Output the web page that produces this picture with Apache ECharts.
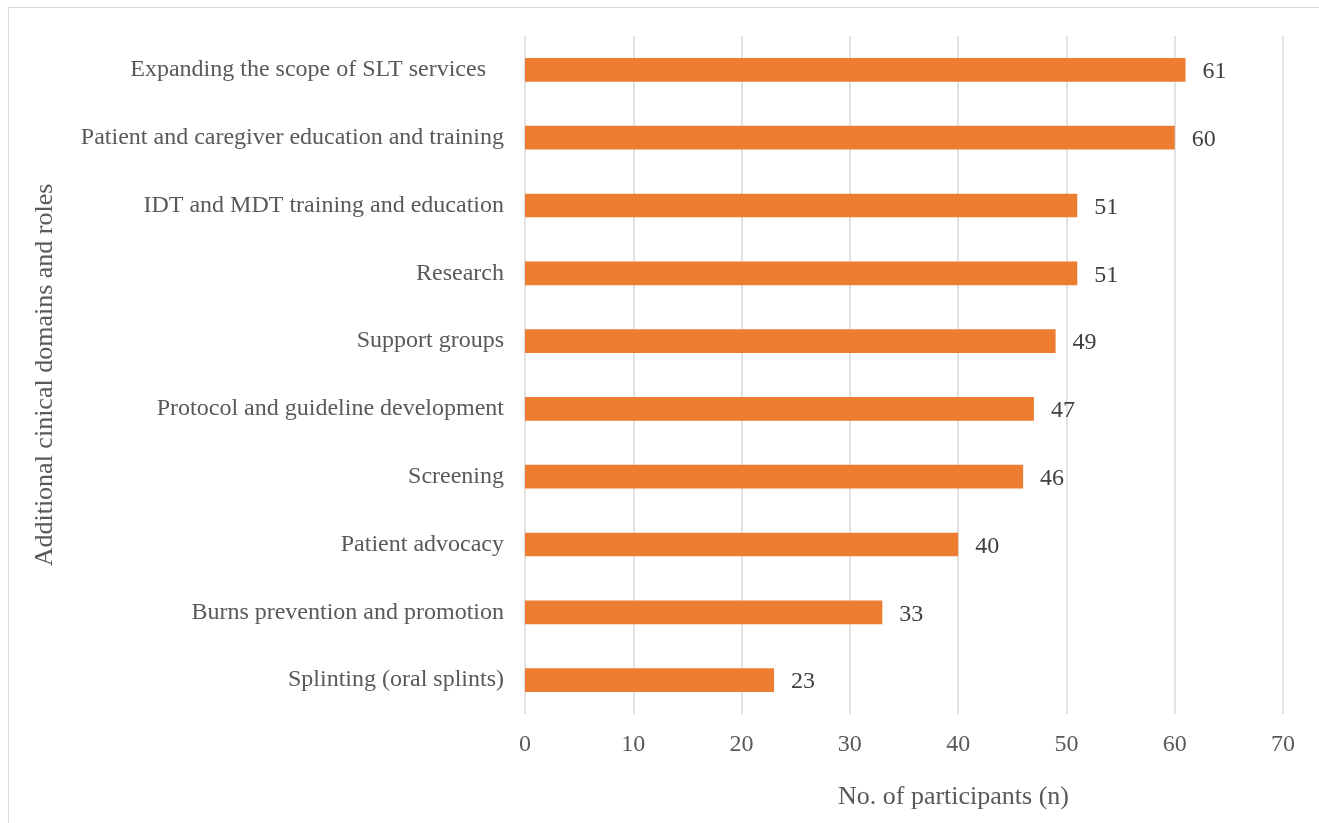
<!DOCTYPE html>
<html>
<head>
<meta charset="utf-8">
<style>
  html, body { margin: 0; padding: 0; background: #fff; }
  #chart { width: 1319px; height: 823px; }
</style>
<script src="https://cdn.jsdelivr.net/npm/echarts@6/dist/echarts.min.js"></script>
</head>
<body>
<div id="chart"></div>
<script>
// Roles, listed bottom to top as drawn on the category axis
const categories = [
  'Splinting (oral splints)',
  'Burns prevention and promotion',
  'Patient advocacy',
  'Screening',
  'Protocol and guideline development',
  'Support groups',
  'Research',
  'IDT and MDT training and education',
  'Patient and caregiver education and training',
  'Expanding the scope of SLT services   '
];
const participants = [23, 33, 40, 46, 47, 49, 51, 51, 60, 61];
const xTicks = [0, 10, 20, 30, 40, 50, 60, 70];

const FONT = '"Liberation Serif", "Times New Roman", serif';
const chart = echarts.init(document.getElementById('chart'));

chart.setOption({
  backgroundColor: '#ffffff',
  animation: false,
  graphic: [{
    type: 'rect',
    shape: { x: 8.5, y: 7.5, width: 1330, height: 830 },
    style: { fill: 'none', stroke: '#d9d9d9', lineWidth: 1 },
    silent: true
  }],
  grid: { left: 525, right: 36, top: 36, bottom: 109, containLabel: false },
  xAxis: {
    type: 'value',
    min: xTicks[0],
    max: xTicks[xTicks.length - 1],
    interval: 10,
    name: 'No. of participants (n)',
    nameLocation: 'middle',
    nameGap: 70,
    nameTextStyle: { fontFamily: FONT, fontSize: 26, color: '#595959', padding: [0, 0, 0, 99] },
    axisLine: { show: false },
    axisTick: { show: false },
    axisLabel: { fontFamily: FONT, fontSize: 24, color: '#595959', margin: 19 },
    splitLine: { show: true, lineStyle: { color: '#d9d9d9', width: 1.5 } }
  },
  yAxis: {
    type: 'category',
    data: categories,
    name: 'Additional cinical domains and roles',
    nameLocation: 'middle',
    nameGap: 467,
    nameRotate: 90,
    nameTextStyle: { fontFamily: FONT, fontSize: 26, color: '#595959' },
    axisLine: { show: false },
    axisTick: { show: false },
    axisLabel: { fontFamily: FONT, fontSize: 24, color: '#595959', margin: 21, padding: [3, 0, 0, 0] },
    splitLine: { show: false }
  },
  series: [{
    type: 'bar',
    data: participants,
    barWidth: '35%',
    itemStyle: { color: '#ED7D31' },
    label: {
      show: true,
      position: 'right',
      distance: 17,
      offset: [0, 2],
      fontFamily: FONT,
      fontSize: 24,
      color: '#404040'
    }
  }]
});
</script>
</body>
</html>
